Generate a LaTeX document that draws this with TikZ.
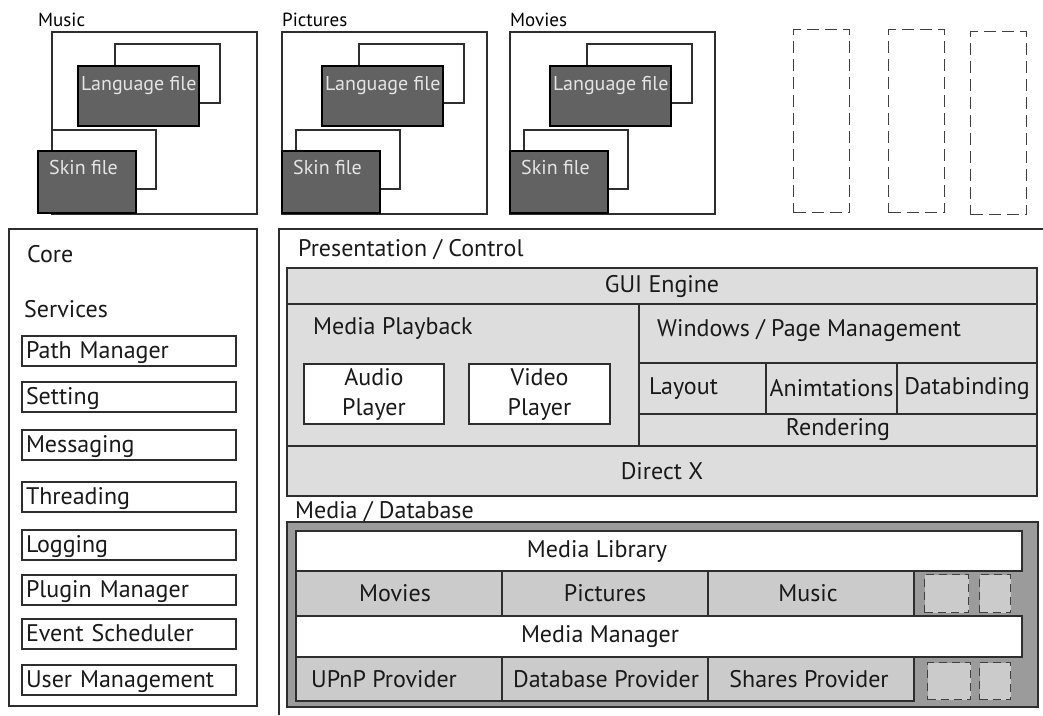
\documentclass[tikz,border=0pt]{standalone}
\usepackage{fontspec}
\setmainfont{PT Sans}
\usetikzlibrary{positioning}
\definecolor{guigray}{HTML}{DDDDDD}
\definecolor{dbouter}{HTML}{9B9B9B}
\definecolor{dbgray}{HTML}{CBCBCB}
\definecolor{filegray}{HTML}{626262}
\definecolor{filetext}{HTML}{E4E4E4}
\definecolor{linegray}{HTML}{2E2E2E}
\tikzset{
		>=stealth,
		box/.style={draw=linegray, line width=1.4pt, inner sep=0pt, outer sep=0pt},
		packframe/.style={box, fill=white, minimum width=205pt, minimum height=182pt},
		backbox/.style={box, fill=white, minimum width=105pt, minimum height=59pt},
		filebox/.style={box, draw=black, fill=filegray},
		filelbl/.style={inner sep=0pt, text=filetext, font=\fontsize{20}{22}\selectfont},
		packtitle/.style={inner sep=0pt, font=\fontsize{19}{21}\selectfont},
		lbl/.style={inner sep=0pt, text=black!90, font=\fontsize{24}{28}\selectfont},
		svcbox/.style={box, fill=white, minimum height=30pt, text width=206pt, inner xsep=4pt,
			align=left, text height=18pt, text depth=4pt, text=black!90, font=\fontsize{24}{28}\selectfont},
		guicell/.style={box, fill=guigray, text=black!90, font=\fontsize{24}{28}\selectfont},
		playerbox/.style={box, fill=white, minimum width=140pt, minimum height=60pt, align=center,
			text=black!90, font=\fontsize{24}{30}\selectfont},
		dbcell/.style={box, fill=dbgray, minimum width=206pt},
		dbwhite/.style={box, fill=white, minimum width=726pt},
		bigdash/.style={draw=black!75, line width=1.2pt, dash pattern=on 12pt off 6pt,
			minimum width=56pt, minimum height=183pt, inner sep=0pt},
		smalldash/.style={draw=black!75, line width=1.2pt, dash pattern=on 8pt off 5pt,
			fill=dbgray, inner sep=0pt}
	}

\begin{document}
\begin{tikzpicture}[x=1pt, y=-1pt]
            \useasboundingbox (0,0) rectangle (1043,715);

            % skin packs
            \foreach \lx/\sh/\ttl/\nm in {52/14/Music/mus, 282/0/Pictures/pic, 510/0/Movies/mov} {
                \node[packframe, anchor=north west] (\nm) at (\lx,32) {};
                \node[packtitle, anchor=base west] (\nm-title) at (\lx-\sh,26) {\ttl};
                \node[backbox, anchor=north west] (\nm-langback) at (\lx-\sh+77,44) {};
                \node[filebox, minimum width=121pt, minimum height=60pt, anchor=north west] (\nm-lang) at (\lx-\sh+40,66) {};
                \node[filelbl, anchor=base west] (\nm-langtxt) at ([xshift=3pt, yshift=-24pt]\nm-lang.north west) {Language file};
                \node[backbox, minimum width=104pt, anchor=north west] (\nm-skinback) at (\lx-\sh+14,130) {};
                \node[filebox, minimum width=98pt, minimum height=62pt, anchor=north west] (\nm-skin) at (\lx-\sh,151) {};
                \node[filelbl, anchor=base west] (\nm-skintxt) at ([xshift=11pt, yshift=-23pt]\nm-skin.north west) {Skin file};
            }
            \foreach \x/\y [count=\i] in {793/29, 888/29, 970/31}
                \node[bigdash, anchor=north west] (slot\i) at (\x,\y) {};

            % core
            \node[box, minimum width=248pt, minimum height=477pt, anchor=north west] (core) at (9,229) {};
            \node[lbl, anchor=base west] (core-title) at (27,262) {Core};
            \node[lbl, anchor=base west] (services) at (24,317) {Services};
            \foreach \y/\nm/\txt in {336/pathmgr/Path Manager, 382/setting/Setting, 430/messaging/Messaging,
                482/threading/Threading, 530/logging/Logging, 575/pluginmgr/Plugin Manager,
                619/scheduler/Event Scheduler, 665/usermgmt/User Management}
                \node[svcbox, anchor=north west] (\nm) at (22,\y) {\txt};

            % presentation / control
            \draw[box] (279,715) -- (279,229) -- (1043,229);
            \node[lbl, anchor=base west] (pres-title) at (298,256) {Presentation / Control};
            \node[guicell, minimum width=750pt, minimum height=36pt, anchor=north west] (gui) at (287,268) {GUI Engine};
            \node[guicell, minimum width=352pt, minimum height=142pt, anchor=north west] (playback) at (287,304) {};
            \node[lbl, anchor=base west] (playback-title) at (313,334) {Media Playback};
            \node[playerbox, anchor=north west] (audio) at (304,364) {Audio\\Player};
            \node[playerbox, minimum width=141pt, anchor=north west] (video) at (469,364) {Video\\Player};
            \node[guicell, minimum width=398pt, minimum height=59pt, anchor=north west] (winmgmt) at (639,304) {};
            \node[lbl, anchor=base west] (winmgmt-title) at (657,336) {Windows / Page Management};
            \node[guicell, minimum width=127pt, minimum height=51pt, anchor=north west] (layout) at (639,363) {};
            \node[lbl, anchor=west] (layout-title) at ([xshift=10pt]layout.west) {Layout};
            \node[guicell, minimum width=131pt, minimum height=51pt, anchor=north west] (anim) at (766,363) {Animtations};
            \node[guicell, minimum width=140pt, minimum height=51pt, anchor=north west] (databind) at (897,363) {Databinding};
            \node[guicell, minimum width=398pt, minimum height=32pt, anchor=north west] (rendering) at (639,414) {Rendering};
            \node[guicell, minimum width=750pt, minimum height=50pt, anchor=north west] (directx) at (287,446) {Direct X};

            % media / database
            \node[lbl, anchor=base west] (db-title) at (295,518) {Media / Database};
            \node[box, fill=dbouter, minimum width=751pt, minimum height=185pt, anchor=north west] (db) at (287,522) {};
            \node[dbwhite, minimum height=40pt, anchor=north west] (medialib) at (296,531) {};
            \node[lbl] (medialib-title) at ([xshift=-62pt]medialib.center) {Media Library};
            \foreach \nm/\txt/\dx [count=\i from 0] in {movies/Movies/-4, pictures/Pictures/0, music/Music/-3} {
                \node[dbcell, minimum height=45pt, anchor=north west] (\nm) at (296+206*\i,571) {};
                \node[lbl] (\nm-title) at ([xshift=\dx pt]\nm.center) {\txt};
            }
            \node[smalldash, minimum width=44pt, minimum height=38pt, anchor=north west] (libslot1) at (924,574) {};
            \node[smalldash, minimum width=31pt, minimum height=38pt, anchor=north west] (libslot2) at (979,574) {};
            \node[dbwhite, minimum height=41pt, anchor=north west] (mediamgr) at (296,616) {};
            \node[lbl] (mediamgr-title) at ([xshift=-59pt]mediamgr.center) {Media Manager};
            \foreach \nm/\txt/\dx [count=\i from 0] in {upnp/UPnP Provider/-15, dbprov/Database Provider/1, shares/Shares Provider/-2} {
                \node[dbcell, minimum height=44pt, anchor=north west] (\nm) at (296+206*\i,657) {};
                \node[lbl] (\nm-title) at ([xshift=\dx pt]\nm.center) {\txt};
            }
            \node[smalldash, minimum width=43pt, minimum height=37pt, anchor=north west] (provslot1) at (927,662) {};
            \node[smalldash, minimum width=31pt, minimum height=37pt, anchor=north west] (provslot2) at (979,662) {};

        \end{tikzpicture}
\end{document}
